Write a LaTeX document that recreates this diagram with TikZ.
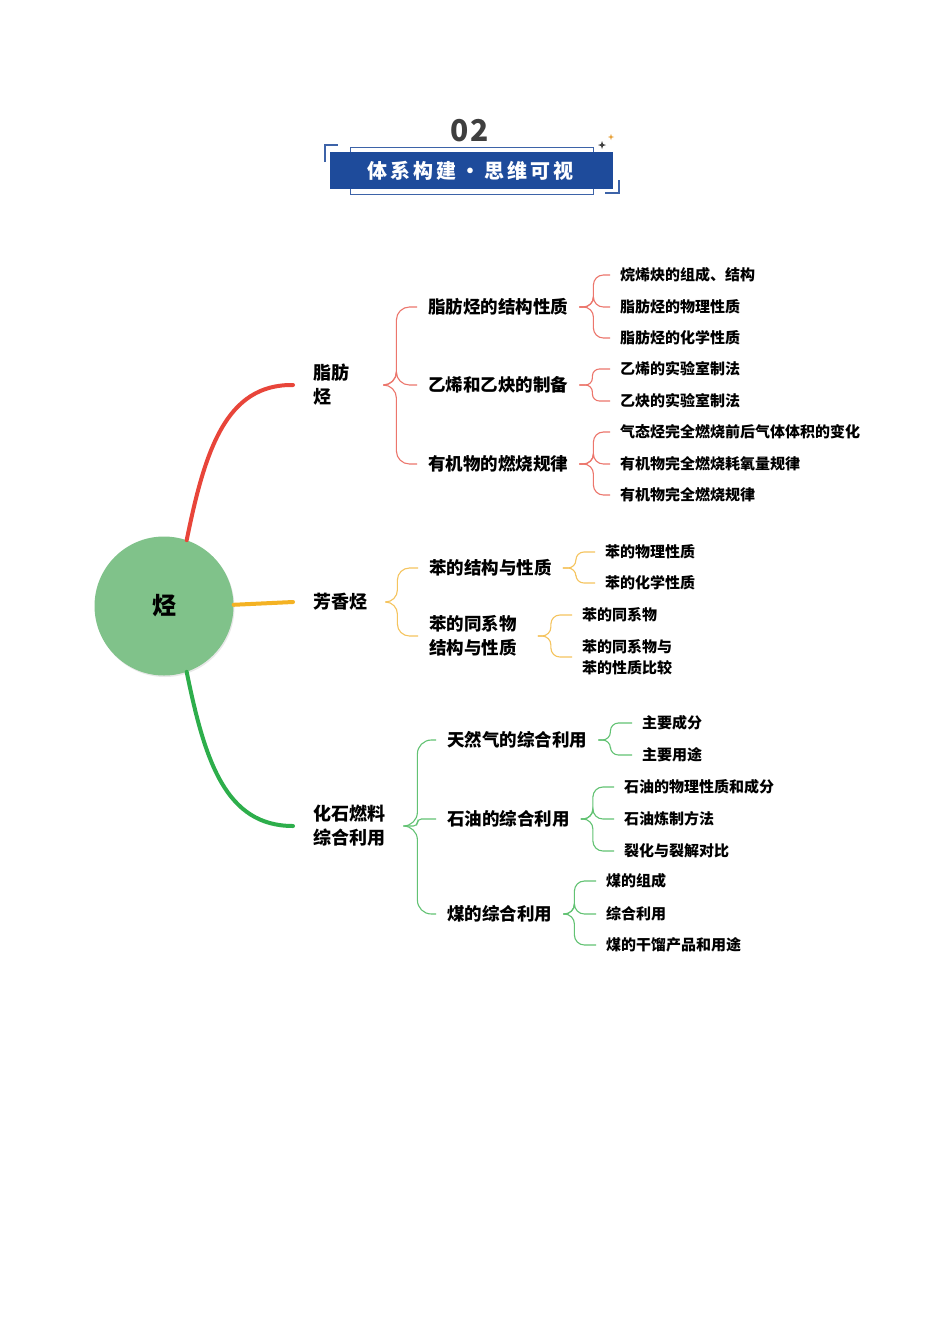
\documentclass[tikz,border=0pt]{standalone}
\usepackage{fontspec}
\setmainfont{Noto Sans CJK SC}
\usetikzlibrary{shadows}
\definecolor{hdrblue}{HTML}{1E4B9B}
\definecolor{hdrline}{HTML}{3D63A8}
\definecolor{numgray}{HTML}{3F3F3F}
\definecolor{rootgreen}{HTML}{80C28A}
\definecolor{redB}{HTML}{E8453A}
\definecolor{orgB}{HTML}{F4B223}
\definecolor{grnB}{HTML}{2DAE4B}
\definecolor{redT}{HTML}{EC766C}
\definecolor{orgT}{HTML}{F5C45E}
\definecolor{grnT}{HTML}{62C273}
\definecolor{starorg}{HTML}{E8A33D}
\newcommand\brk[5]{\draw[#1,rounded corners=#4] (#2) -- ++(#3,0) |- (#5.west);}
\begin{document}
\begin{tikzpicture}[x=1pt,y=-1pt,
  lone/.style={anchor=west, inner sep=0pt, align=left, font=\fontsize{18}{24}\selectfont\bfseries},
  ltwo/.style={anchor=west, inner xsep=11pt, inner ysep=2pt, align=left, font=\fontsize{17.5}{24}\selectfont\bfseries},
  lthree/.style={anchor=west, inner xsep=10pt, inner ysep=2pt, align=left, font=\fontsize{15}{21}\selectfont\bfseries},
  rthin/.style={draw=redT, line width=1.1pt},
  othin/.style={draw=orgT, line width=1.1pt},
  gthin/.style={draw=grnT, line width=1.1pt},
  mainbr/.style={line width=4pt, line cap=round}]
\useasboundingbox (0,0) rectangle (950,1344);
\fill[white] (0,0) rectangle (950,1344);
% ---------- header ----------
\node[font=\fontsize{30}{30}\selectfont\bfseries, text=numgray] (num) at (470,131) {0\kern2pt 2};
\draw[hdrline, line width=1pt] (350,147) rectangle (593,194);
\fill[hdrblue] (330,152) rectangle (613,189);
\node[font=\fontsize{20}{20}\selectfont\bfseries, text=white] (title) at (470,171)
  {体\kern3pt 系\kern3pt 构\kern3pt 建\kern4pt •\kern4pt 思\kern3pt 维\kern3pt 可\kern3pt 视};
\draw[hdrline, line width=1.5pt] (325,162) -- (325,145) -- (338,145);
\draw[hdrline, line width=1.5pt] (605,193) -- (619,193) -- (619,180);
\fill[numgray] (602,141) -- (603,144) -- (606,145) -- (603,146) -- (602,149) -- (601,146) -- (598,145) -- (601,144) -- cycle;
\fill[starorg] (611,134) -- (611.8,136.2) -- (614,137) -- (611.8,137.8) -- (611,140) -- (610.2,137.8) -- (608,137) -- (610.2,136.2) -- cycle;
% ---------- root ----------
\node[circle, fill=rootgreen, minimum size=139pt, inner sep=0pt,
      drop shadow={opacity=0.18, shadow xshift=1pt, shadow yshift=-1.5pt},
      font=\fontsize{24}{24}\selectfont\bfseries] (root) at (164,606) {烃};
% ---------- level 1 ----------
\node[lone] (la) at (313,385) {脂肪\\烃};
\node[lone] (lb) at (313,602) {芳香烃};
\node[lone] (lc) at (313,826) {化石燃料\\综合利用};
\draw[redB, mainbr] (root.71) .. controls (205,450) and (226,384) .. ([xshift=-20pt]la.west);
\draw[orgB, mainbr] (root.1) -- ([xshift=-20pt]lb.west);
\draw[grnB, mainbr] (root.-71) .. controls (205,762) and (226,826) .. ([xshift=-20pt]lc.west);
% ---------- red branch ----------
\node[ltwo] (a1) at (417,307) {脂肪烃的结构性质};
\node[ltwo] (a2) at (417,385) {乙烯和乙炔的制备};
\node[ltwo] (a3) at (417,464) {有机物的燃烧规律};
\brk{rthin}{[xshift=36pt]la.east}{11}{13pt}{a1}
\brk{rthin}{[xshift=36pt]la.east}{11}{13pt}{a2}
\brk{rthin}{[xshift=36pt]la.east}{11}{13pt}{a3}
\node[lthree] (a11) at (610,275) {烷烯炔的组成、结构};
\node[lthree] (a12) at (610,307) {脂肪烃的物理性质};
\node[lthree] (a13) at (610,338) {脂肪烃的化学性质};
\brk{rthin}{a1.east}{14}{10pt}{a11}
\brk{rthin}{a1.east}{14}{10pt}{a12}
\brk{rthin}{a1.east}{14}{10pt}{a13}
\node[lthree] (a21) at (610,369) {乙烯的实验室制法};
\node[lthree] (a22) at (610,401) {乙炔的实验室制法};
\brk{rthin}{a2.east}{13}{7pt}{a21}
\brk{rthin}{a2.east}{13}{7pt}{a22}
\node[lthree] (a31) at (610,432) {气态烃完全燃烧前后气体体积的变化};
\node[lthree] (a32) at (610,464) {有机物完全燃烧耗氧量规律};
\node[lthree] (a33) at (610,495) {有机物完全燃烧规律};
\brk{rthin}{a3.east}{14}{10pt}{a31}
\brk{rthin}{a3.east}{14}{10pt}{a32}
\brk{rthin}{a3.east}{14}{10pt}{a33}
% ---------- orange branch ----------
\node[ltwo] (b1) at (418,568) {苯的结构与性质};
\node[ltwo] (b2) at (418,636) {苯的同系物\\结构与性质};
\brk{othin}{[xshift=20pt]lb.east}{10}{12pt}{b1}
\brk{othin}{[xshift=20pt]lb.east}{10}{12pt}{b2}
\node[lthree] (b11) at (595,552) {苯的物理性质};
\node[lthree] (b12) at (595,583) {苯的化学性质};
\brk{othin}{b1.east}{13}{8pt}{b11}
\brk{othin}{b1.east}{13}{8pt}{b12}
\node[lthree] (b21) at (572,615) {苯的同系物};
\node[lthree] (b22) at (572,657) {苯的同系物与\\苯的性质比较};
\brk{othin}{[xshift=10pt]b2.east}{13}{9pt}{b21}
\brk{othin}{[xshift=10pt]b2.east}{13}{9pt}{b22}
% ---------- green branch ----------
\node[ltwo] (c1) at (436,740) {天然气的综合利用};
\node[ltwo] (c2) at (436,819) {石油的综合利用};
\node[ltwo] (c3) at (436,914) {煤的综合利用};
\brk{gthin}{[xshift=20pt]lc.east}{12}{14pt}{c1}
\brk{gthin}{[xshift=20pt]lc.east}{12}{4pt}{c2}
\brk{gthin}{[xshift=20pt]lc.east}{12}{14pt}{c3}
\node[lthree] (c11) at (632,723) {主要成分};
\node[lthree] (c12) at (632,755) {主要用途};
\brk{gthin}{c1.east}{12}{8pt}{c11}
\brk{gthin}{c1.east}{12}{8pt}{c12}
\node[lthree] (c21) at (614,787) {石油的物理性质和成分};
\node[lthree] (c22) at (614,819) {石油炼制方法};
\node[lthree] (c23) at (614,851) {裂化与裂解对比};
\brk{gthin}{c2.east}{12}{10pt}{c21}
\brk{gthin}{c2.east}{12}{10pt}{c22}
\brk{gthin}{c2.east}{12}{10pt}{c23}
\node[lthree] (c31) at (596,881) {煤的组成};
\node[lthree] (c32) at (596,914) {综合利用};
\node[lthree] (c33) at (596,945) {煤的干馏产品和用途};
\brk{gthin}{c3.east}{11}{10pt}{c31}
\brk{gthin}{c3.east}{11}{10pt}{c32}
\brk{gthin}{c3.east}{11}{10pt}{c33}
\end{tikzpicture}
\end{document}
